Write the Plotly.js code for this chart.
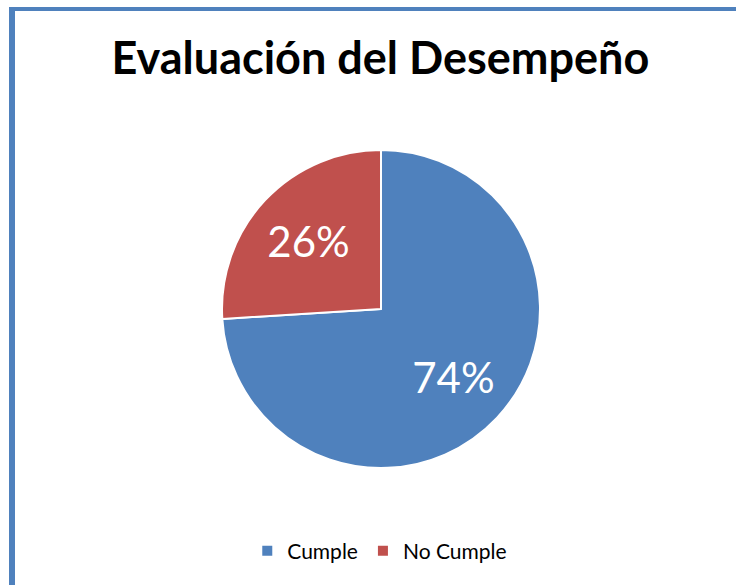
<!DOCTYPE html>
<html>
<head>
<meta charset="utf-8">
<script src="https://cdn.plot.ly/plotly-3.0.1.min.js"></script>
<style>
  html, body { margin: 0; padding: 0; background: #fff; overflow: hidden; }
  #frame {
    position: absolute; left: 9px; top: 7px; width: 800px; height: 700px;
    border-left: 6px solid #4F81BD; border-top: 4px solid #4F81BD;
  }
  #chart { position: absolute; left: 0; top: 0; width: 736px; height: 585px; }
</style>
</head>
<body>
<div id="frame"></div>
<div id="chart"></div>
<script>
// chart data
const categories = ['Cumple', 'No Cumple'];
const percentages = [74, 26];
const sliceColors = ['#4F81BD', '#C0504D'];

// the filled slices
const pieTrace = {
    type: 'pie',
    labels: categories,
    values: percentages,
    sort: false,
    direction: 'clockwise',
    rotation: 0,
    textinfo: 'none',
    marker: { colors: sliceColors, line: { color: '#ffffff', width: 2 } },
    hoverinfo: 'label+percent'
};

// transparent ring on top, only used to place the percent labels a bit further out
const labelTrace = {
    type: 'pie',
    labels: categories,
    values: percentages,
    sort: false,
    direction: 'clockwise',
    rotation: 0,
    hole: 0.25,
    showlegend: false,
    textinfo: 'percent',
    textposition: 'inside',
    insidetextorientation: 'horizontal',
    insidetextfont: { family: 'Lato, sans-serif', size: 42, color: '#ffffff' },
    marker: { colors: ['rgba(0,0,0,0)', 'rgba(0,0,0,0)'], line: { width: 0 } },
    hoverinfo: 'skip'
};

const layout = {
    width: 736,
    height: 585,
    margin: { l: 222, r: 196, t: 150, b: 117 },
    paper_bgcolor: 'rgba(0,0,0,0)',
    plot_bgcolor: 'rgba(0,0,0,0)',
    title: {
        text: '<b>Evaluación del Desempeño</b>',
        font: { family: 'Lato, sans-serif', size: 45, color: '#000000' },
        x: 0.498, xref: 'paper', xanchor: 'center',
        y: 0.874, yref: 'container', yanchor: 'bottom'
    },
    showlegend: true,
    legend: {
        orientation: 'h',
        x: 0.516, xref: 'container', xanchor: 'center',
        y: 0.058, yref: 'container', yanchor: 'middle',
        font: { family: 'Lato, sans-serif', size: 21, color: '#000000' },
        itemclick: false
    }
};

Plotly.newPlot('chart', [pieTrace, labelTrace], layout, { displayModeBar: false, staticPlot: true });
</script>
</body>
</html>
